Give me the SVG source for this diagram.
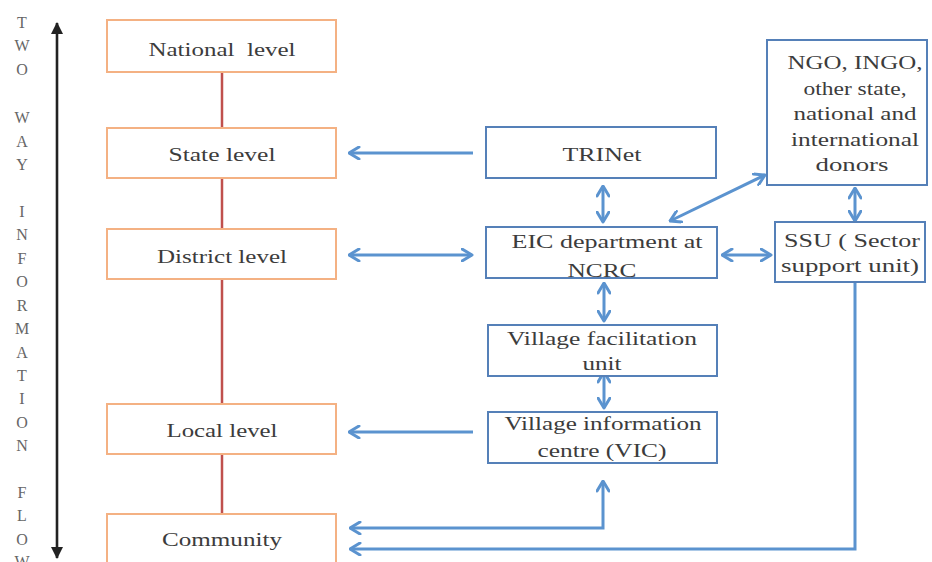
<svg xmlns="http://www.w3.org/2000/svg" width="932" height="562" viewBox="0 0 932 562">
<defs>
<style>
.t{font-family:"Liberation Serif","Times New Roman",serif;font-size:19px;fill:#3c3c3c;text-anchor:middle}
.v{font-family:"Liberation Serif","Times New Roman",serif;font-size:16px;fill:#666;text-anchor:middle}
.ob{fill:#fff;stroke:#f4b183;stroke-width:2}
.bb{fill:#fff;stroke:#5580b8;stroke-width:2}
.ba{fill:none;stroke:#5b93cf;stroke-width:3}
</style>
<marker id="bh" viewBox="0 0 13 14" refX="11.5" refY="7" markerWidth="13" markerHeight="14" markerUnits="userSpaceOnUse" orient="auto-start-reverse">
<path d="M1.5,1 L11.5,7 L1.5,13" fill="none" stroke="#5b93cf" stroke-width="3" stroke-linejoin="round" stroke-linecap="round"/>
</marker>
<marker id="kh" viewBox="0 0 12 12" refX="11" refY="6" markerWidth="12" markerHeight="12" markerUnits="userSpaceOnUse" orient="auto-start-reverse">
<path d="M0,0 L12,6 L0,12 z" fill="#222"/>
</marker>
</defs>
<rect width="932" height="562" fill="#fff"/>

<g id="side-label">
<text class="v" x="22" y="28">T</text>
<text class="v" x="22" y="51">W</text>
<text class="v" x="22" y="75">O</text>
<text class="v" x="22" y="123">W</text>
<text class="v" x="22" y="147">A</text>
<text class="v" x="22" y="170">Y</text>
<text class="v" x="22" y="217">I</text>
<text class="v" x="22" y="240">N</text>
<text class="v" x="22" y="264">F</text>
<text class="v" x="22" y="287">O</text>
<text class="v" x="22" y="311">R</text>
<text class="v" x="22" y="334">M</text>
<text class="v" x="22" y="358">A</text>
<text class="v" x="22" y="381">T</text>
<text class="v" x="22" y="404">I</text>
<text class="v" x="22" y="428">O</text>
<text class="v" x="22" y="451">N</text>
<text class="v" x="22" y="498">F</text>
<text class="v" x="22" y="521">L</text>
<text class="v" x="22" y="545">O</text>
<text class="v" x="22" y="567">W</text>
</g>

<g id="connectors">
<line x1="57" y1="23" x2="57" y2="558" stroke="#222" stroke-width="2.6" marker-start="url(#kh)" marker-end="url(#kh)"/>
<line x1="222" y1="72" x2="222" y2="514" stroke="#c0504d" stroke-width="2.5"/>
<line class="ba" x1="473" y1="153" x2="349" y2="153" marker-end="url(#bh)"/>
<line class="ba" x1="349" y1="255" x2="472" y2="255" marker-start="url(#bh)" marker-end="url(#bh)"/>
<line class="ba" x1="603" y1="186" x2="603" y2="222" marker-start="url(#bh)" marker-end="url(#bh)"/>
<line class="ba" x1="604" y1="283" x2="604" y2="321" marker-start="url(#bh)" marker-end="url(#bh)"/>
<line class="ba" x1="604" y1="372" x2="604" y2="408" marker-start="url(#bh)" marker-end="url(#bh)"/>
<line class="ba" x1="473" y1="432" x2="349" y2="432" marker-end="url(#bh)"/>
<polyline class="ba" points="350,528 603,528 603,481" marker-start="url(#bh)" marker-end="url(#bh)"/>
<polyline class="ba" points="855,282 855,549 350,549" marker-end="url(#bh)"/>
<line class="ba" x1="722" y1="255" x2="771" y2="255" marker-start="url(#bh)" marker-end="url(#bh)"/>
<line class="ba" x1="855" y1="188" x2="855" y2="221" marker-start="url(#bh)" marker-end="url(#bh)"/>
<line class="ba" x1="670" y1="221" x2="765" y2="175" marker-start="url(#bh)" marker-end="url(#bh)"/>
</g>

<g id="national">
<rect class="ob" x="107" y="20" width="229" height="52"/>
<text class="t" x="222" y="56" textLength="147" lengthAdjust="spacingAndGlyphs" xml:space="preserve">National  level</text>
</g>
<g id="state">
<rect class="ob" x="107" y="128" width="229" height="50"/>
<text class="t" x="222" y="161" textLength="107" lengthAdjust="spacingAndGlyphs">State level</text>
</g>
<g id="district">
<rect class="ob" x="107" y="229" width="229" height="50"/>
<text class="t" x="222" y="263" textLength="130" lengthAdjust="spacingAndGlyphs">District level</text>
</g>
<g id="local">
<rect class="ob" x="107" y="404" width="229" height="50"/>
<text class="t" x="222" y="437" textLength="111" lengthAdjust="spacingAndGlyphs">Local level</text>
</g>
<g id="community">
<rect class="ob" x="107" y="514" width="229" height="54"/>
<text class="t" x="222" y="546" textLength="120" lengthAdjust="spacingAndGlyphs">Community</text>
</g>

<g id="trinet">
<rect class="bb" x="486" y="127" width="230" height="51"/>
<text class="t" x="602" y="161" textLength="79" lengthAdjust="spacingAndGlyphs">TRINet</text>
</g>
<g id="eic">
<rect class="bb" x="486" y="227" width="231" height="51"/>
<text class="t" x="607" y="248" textLength="191" lengthAdjust="spacingAndGlyphs">EIC department at</text>
<text class="t" x="602" y="277" textLength="69" lengthAdjust="spacingAndGlyphs">NCRC</text>
</g>
<g id="vfu">
<rect class="bb" x="488" y="325" width="229" height="51"/>
<text class="t" x="602" y="345" textLength="190" lengthAdjust="spacingAndGlyphs">Village facilitation</text>
<text class="t" x="602" y="370" textLength="39" lengthAdjust="spacingAndGlyphs">unit</text>
</g>
<g id="vic">
<rect class="bb" x="488" y="412" width="229" height="51"/>
<text class="t" x="603" y="430" textLength="197" lengthAdjust="spacingAndGlyphs">Village information</text>
<text class="t" x="602" y="457" textLength="129" lengthAdjust="spacingAndGlyphs">centre (VIC)</text>
</g>
<g id="ngo">
<rect class="bb" x="767" y="40" width="160" height="145"/>
<text class="t" x="855" y="69" textLength="135" lengthAdjust="spacingAndGlyphs">NGO, INGO,</text>
<text class="t" x="855" y="94.5" textLength="103" lengthAdjust="spacingAndGlyphs">other state,</text>
<text class="t" x="855" y="120" textLength="123" lengthAdjust="spacingAndGlyphs">national and</text>
<text class="t" x="855" y="145.5" textLength="128" lengthAdjust="spacingAndGlyphs">international</text>
<text class="t" x="852" y="171" textLength="73" lengthAdjust="spacingAndGlyphs">donors</text>
</g>
<g id="ssu">
<rect class="bb" x="775" y="222" width="150" height="60"/>
<text class="t" x="852" y="247" textLength="136" lengthAdjust="spacingAndGlyphs">SSU ( Sector</text>
<text class="t" x="850" y="272" textLength="138" lengthAdjust="spacingAndGlyphs">support unit)</text>
</g>
</svg>
